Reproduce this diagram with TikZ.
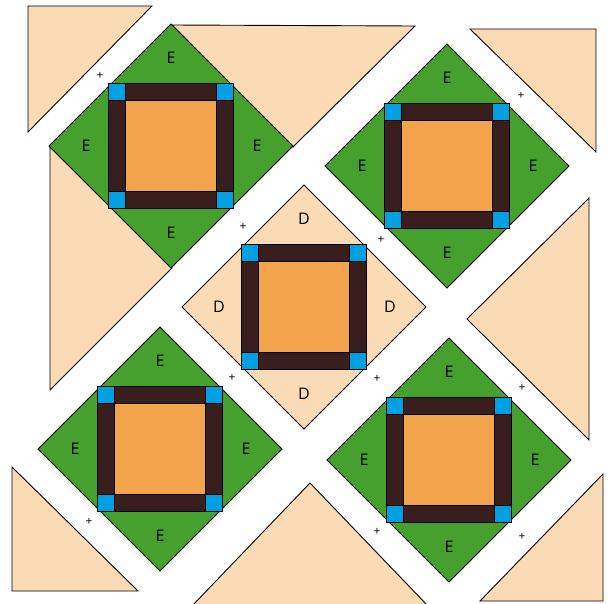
\documentclass[tikz,border=0pt]{standalone}
\usepackage{fontspec}
\setmainfont{Open Sans}
\definecolor{qgreen}{RGB}{69,160,46}
\definecolor{qpeach}{RGB}{251,219,181}
\definecolor{qorange}{RGB}{242,163,76}
\definecolor{qbrown}{RGB}{56,30,28}
\definecolor{qblue}{RGB}{0,160,226}
\tikzset{
  thinline/.style={draw=black, line width=0.9pt, line join=miter},
  frameline/.style={draw=black, line width=1.8pt},
  cellline/.style={draw=black, line width=1.4pt},
  lbl/.style={font=\fontsize{16}{16}\selectfont, inner sep=0pt},
  plus/.style={font=\fontsize{12}{12}\selectfont, inner sep=0pt},
}
\newcommand\qblock[5]{%
  \begin{scope}[shift={(#2,#3)}]
    \draw[thinline, fill=#4] (0,-122) -- (122,0) -- (0,122) -- (-122,0) -- cycle;
    \node[lbl] (#1t) at (0,-88) {#5};
    \node[lbl] (#1b) at (0,87) {#5};
    \node[lbl] (#1l) at (-85,0) {#5};
    \node[lbl] (#1r) at (86,0) {#5};
    \draw[frameline, fill=qbrown] (-62.5,-62.5) rectangle (62.5,62.5);
    \draw[cellline, fill=qorange] (-45.5,-45.5) rectangle (45.5,45.5);
    \foreach \sx/\sy in {-1/-1,1/-1,-1/1,1/1}
      \draw[cellline, fill=qblue] ({\sx*62.5},{\sy*62.5}) rectangle ({\sx*45.5},{\sy*45.5});
    \draw[frameline] (-62.5,-62.5) rectangle (62.5,62.5);
  \end{scope}}
\begin{document}
\begin{tikzpicture}[x=1pt,y=-1pt]
\useasboundingbox (0,0) rectangle (611,603);
\fill[white] (0,0) rectangle (611,603);
% peach triangles
\draw[thinline, fill=qpeach] (28,6) -- (152,6) -- (28,132) -- cycle;
\draw[thinline, fill=qpeach] (172,25) -- (415,26) -- (293,147) -- cycle;
\draw[thinline, fill=qpeach] (470,29) -- (596,29) -- (596,152) -- cycle;
\draw[thinline, fill=qpeach] (50,147) -- (172,268) -- (50,390) -- cycle;
\draw[thinline, fill=qpeach] (589,198) -- (589,440) -- (467,319) -- cycle;
\draw[thinline, fill=qpeach] (12,467) -- (12,591) -- (138,591) -- cycle;
\draw[thinline, fill=qpeach] (310,483) -- (428,606) -- (192,606) -- cycle;
\draw[thinline, fill=qpeach] (480,601) -- (603,474) -- (603,601) -- cycle;
% blocks
\qblock{a}{171}{146}{qgreen}{E}
\qblock{b}{447}{166}{qgreen}{E}
\qblock{c}{304}{307}{qpeach}{D}
\qblock{d}{160}{449}{qgreen}{E}
\qblock{e}{449}{460}{qgreen}{E}
% plus signs
\node[plus] (p1) at (100,76) {+};
\node[plus] (p2) at (243,227) {+};
\node[plus] (p3) at (521,96) {+};
\node[plus] (p4) at (381,240) {+};
\node[plus] (p5) at (232,378) {+};
\node[plus] (p6) at (89,522) {+};
\node[plus] (p7) at (377,379) {+};
\node[plus] (p8) at (522,388) {+};
\node[plus] (p9) at (377,532) {+};
\node[plus] (p10) at (522,537) {+};
\end{tikzpicture}
\end{document}
